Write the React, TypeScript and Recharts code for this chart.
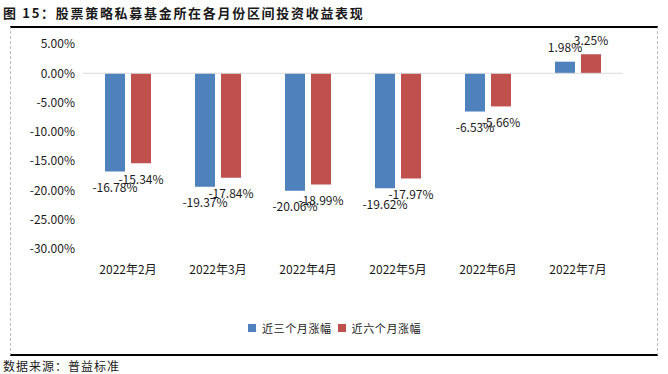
import { BarChart, Bar, XAxis, YAxis, ReferenceLine, LabelList } from "recharts";

const months = ["2022年2月", "2022年3月", "2022年4月", "2022年5月", "2022年6月", "2022年7月"];
const threeMonth = [-16.78, -19.37, -20.06, -19.62, -6.53, 1.98];
const sixMonth = [-15.34, -17.84, -18.99, -17.97, -5.66, 3.25];
const yTicks = [5, 0, -5, -10, -15, -20, -25, -30];
const seriesNames = ["近三个月涨幅", "近六个月涨幅"];
const seriesColors = ["#4F81BD", "#C0504D"];

const data = months.map((m, i) => ({ name: m, three: threeMonth[i], six: sixMonth[i] }));

const FONT = "'Noto Sans CJK SC', 'Noto Sans', sans-serif";

function ValueLabel(props: any) {
  const { x, y, width, height, value } = props;
  const top = Math.min(y, y + height);
  const bottom = Math.max(y, y + height);
  const cx = x + width / 2;
  const ty = value < 0 ? bottom + 15 : top - 15;
  return (
    <text x={cx} y={ty} textAnchor="middle" dominantBaseline="central" fontSize={12} fill="#1a1a1a" fontFamily={FONT}>
      {value.toFixed(2) + "%"}
    </text>
  );
}

export default function App() {
  return (
    <div style={{ position: "absolute", left: 0, top: 0, width: 668, height: 374, background: "#fff", fontFamily: FONT }}>
      <div style={{ position: "absolute", left: 3, top: 3, fontSize: 13, color: "#1a1a1a", fontWeight: 600, letterSpacing: 1.7 }}>
        图 15：股票策略私募基金所在各月份区间投资收益表现
      </div>
      <div style={{ position: "absolute", left: 10, top: 26, width: 648, height: 330, borderTop: "2px solid #000", borderBottom: "2px solid #000", borderLeft: "1px dashed #bbb", borderRight: "1px dashed #bbb", boxSizing: "border-box" }} />
      <div style={{ position: "absolute", left: 10, top: 28 }}>
        <BarChart width={648} height={324} data={data} margin={{ top: 16, right: 35, left: 13, bottom: 0 }} barSize={20} barGap={6}>
          <XAxis dataKey="name" axisLine={false} tickLine={false} tick={{ fill: "#1a1a1a", fontSize: 12, fontFamily: FONT }} dy={8} height={103} />
          <YAxis domain={[-30, 5]} ticks={yTicks} axisLine={false} tickLine={false} width={60} interval={0}
            tickFormatter={(v: number) => v.toFixed(2) + "%"} tick={{ fill: "#1a1a1a", fontSize: 12, fontFamily: FONT }} />
          <ReferenceLine y={0} stroke="#d9d9d9" strokeWidth={1} />
          <Bar dataKey="three" name={seriesNames[0]} fill={seriesColors[0]} isAnimationActive={false}>
            <LabelList dataKey="three" content={ValueLabel} />
          </Bar>
          <Bar dataKey="six" name={seriesNames[1]} fill={seriesColors[1]} isAnimationActive={false}>
            <LabelList dataKey="six" content={ValueLabel} />
          </Bar>
        </BarChart>
      </div>
      <div style={{ position: "absolute", left: 248, top: 320, display: "flex", alignItems: "center", fontSize: 11, color: "#1a1a1a", letterSpacing: 0.6 }}>
        {seriesNames.map((n, i) => (
          <div key={n} style={{ display: "flex", alignItems: "center", marginRight: 6 }}>
            <span style={{ display: "inline-block", width: 8, height: 8, background: seriesColors[i], marginRight: 6 }} />
            <span>{n}</span>
          </div>
        ))}
      </div>
      <div style={{ position: "absolute", left: 3, top: 357, fontSize: 12, color: "#1a1a1a", letterSpacing: 1 }}>
        数据来源：普益标准
      </div>
    </div>
  );
}
